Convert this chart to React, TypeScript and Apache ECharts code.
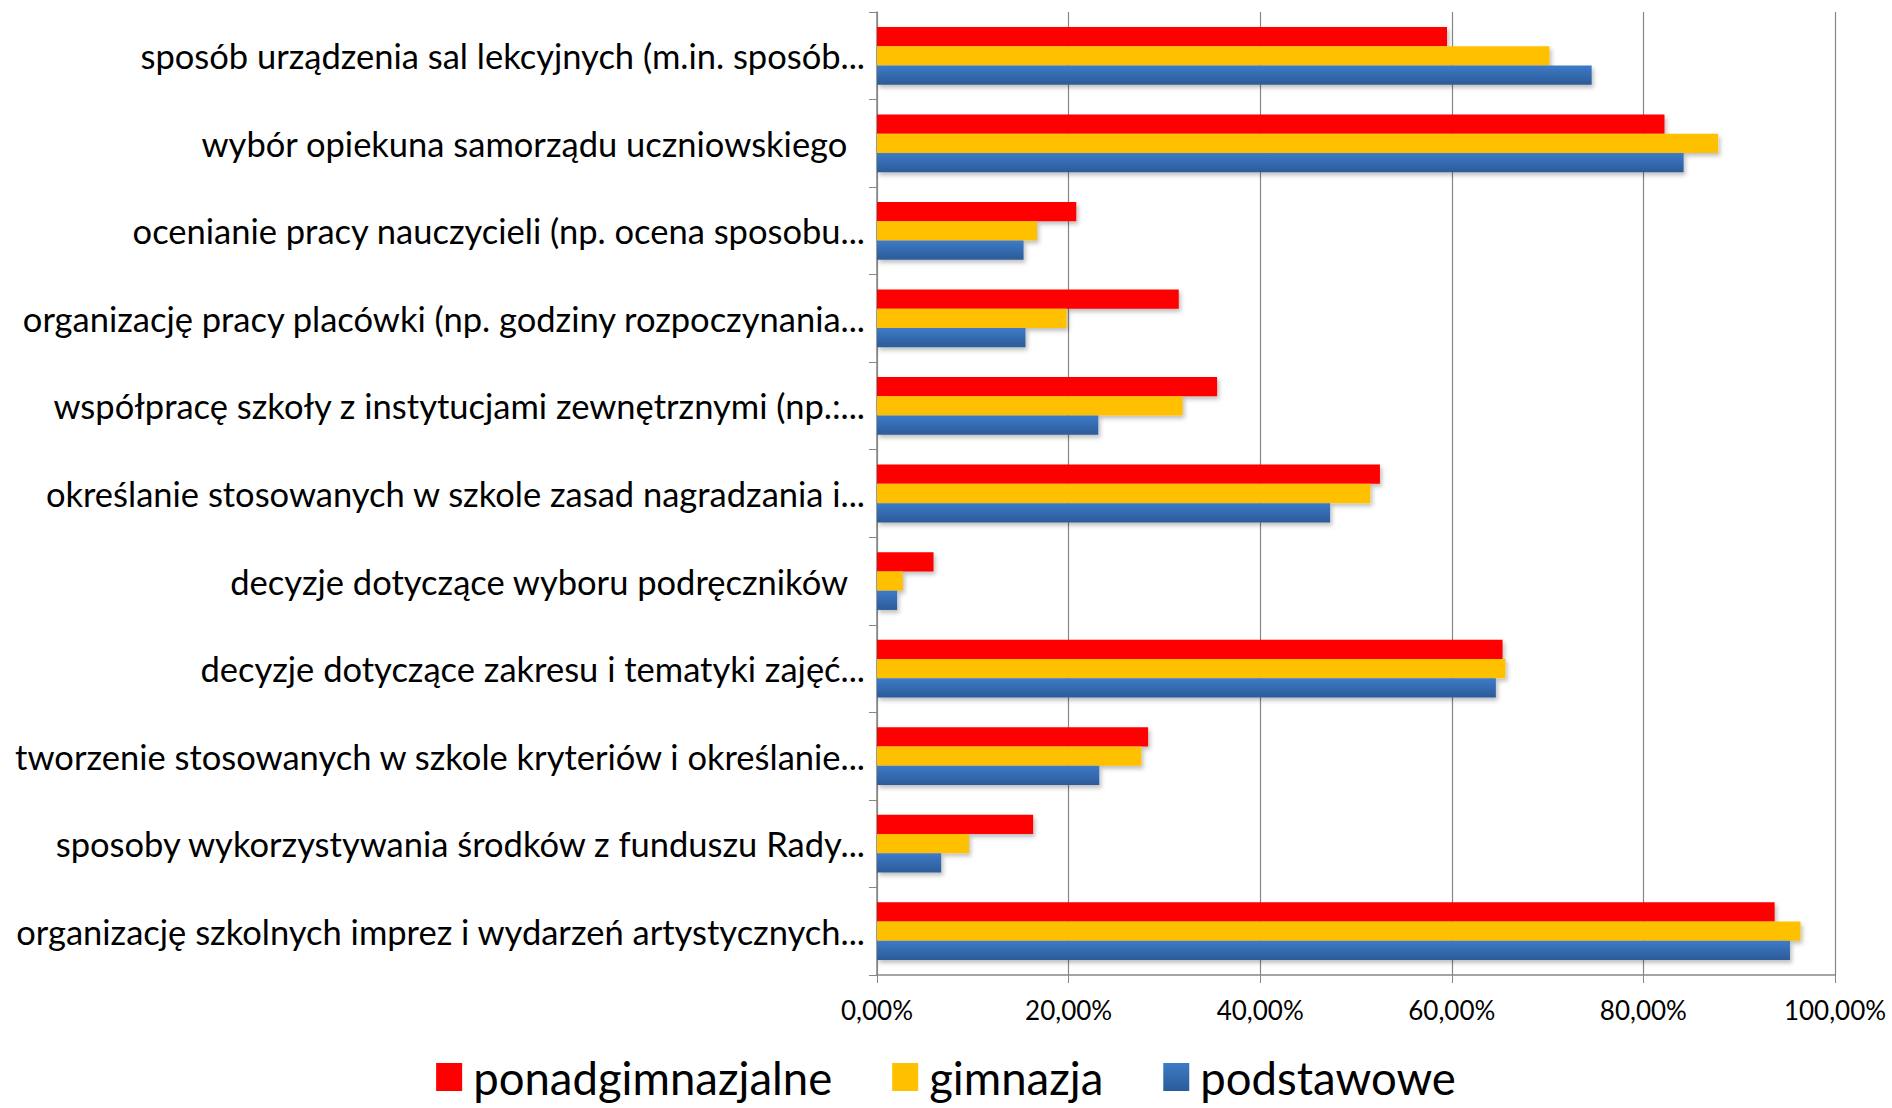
import React, { useEffect, useRef } from "react";
import * as echarts from "echarts";

const categories = [
  "sposób urządzenia sal lekcyjnych (m.in. sposób...",
  "wybór opiekuna samorządu uczniowskiego\u00a0\u00a0",
  "ocenianie pracy nauczycieli (np. ocena sposobu...",
  "organizację pracy placówki (np. godziny rozpoczynania...",
  "współpracę szkoły z instytucjami zewnętrznymi (np.:...",
  "określanie stosowanych w szkole zasad nagradzania i...",
  "decyzje dotyczące wyboru podręczników\u00a0\u00a0",
  "decyzje dotyczące zakresu i tematyki zajęć...",
  "tworzenie stosowanych w szkole kryteriów i określanie...",
  "sposoby wykorzystywania środków z funduszu Rady...",
  "organizację szkolnych imprez i wydarzeń artystycznych...",
];

const ponadgimnazjalne = [59.5, 82.2, 20.8, 31.5, 35.5, 52.5, 5.9, 65.3, 28.3, 16.3, 93.7];
const gimnazja = [70.2, 87.8, 16.7, 19.8, 31.9, 51.5, 2.7, 65.6, 27.6, 9.6, 96.4];
const podstawowe = [74.6, 84.2, 15.3, 15.5, 23.1, 47.3, 2.1, 64.6, 23.2, 6.7, 95.3];

const seriesNames = ["ponadgimnazjalne", "gimnazja", "podstawowe"];
const FONT = "Lato";

export default function App() {
  const ref = useRef<HTMLDivElement>(null);
  useEffect(() => {
    document.body.style.margin = "0";
    const chart = echarts.init(ref.current!, null, { renderer: "svg" });
    const blue = new echarts.graphic.LinearGradient(0, 0, 0, 1, [
      { offset: 0, color: "#3d7bc8" },
      { offset: 1, color: "#2c5b98" },
    ]);
    const colors: any[] = ["#ff0000", "#ffc000", blue];
    const datas = [ponadgimnazjalne, gimnazja, podstawowe];
    chart.setOption({
      animation: false,
      backgroundColor: "#ffffff",
      grid: { left: 877, right: 57, top: 12, bottom: 133, containLabel: false },
      legend: {
        top: 1052,
        left: "center",
        padding: 0,
        itemWidth: 26,
        itemHeight: 28,
        itemGap: 60,
        icon: "rect",
        textStyle: {
          fontFamily: FONT,
          fontSize: 45.5,
          lineHeight: 50,
          color: "#000",
          padding: [0, 0, 0, 6],
        },
        data: seriesNames,
      },
      xAxis: {
        type: "value",
        min: 0,
        max: 100,
        interval: 20,
        axisLine: { show: true, lineStyle: { color: "#868686", width: 1.5 } },
        axisTick: { show: true, length: 8, lineStyle: { color: "#868686" } },
        splitLine: { show: true, lineStyle: { color: "#868686", width: 1.2 } },
        axisLabel: {
          fontFamily: FONT,
          fontSize: 26,
          color: "#000",
          margin: 22,
          formatter: (v: number) => v.toFixed(2).replace(".", ",") + "%",
        },
      },
      yAxis: {
        type: "category",
        inverse: true,
        data: categories,
        axisLine: { show: true, lineStyle: { color: "#868686", width: 1.5 } },
        axisTick: { show: true, length: 8, lineStyle: { color: "#868686" } },
        axisLabel: { fontFamily: FONT, fontSize: 34.5, color: "#000", margin: 12 },
      },
      series: seriesNames.map((name, i) => ({
        name,
        type: "bar",
        data: datas[i],
        barGap: "0%",
        barCategoryGap: "34%",
        itemStyle: {
          color: colors[i],
          shadowColor: "rgba(0,0,0,0.25)",
          shadowBlur: 4,
          shadowOffsetX: 2,
          shadowOffsetY: 3,
        },
      })),
    });
    return () => chart.dispose();
  }, []);
  return <div ref={ref} style={{ width: 1892, height: 1108 }} />;
}
